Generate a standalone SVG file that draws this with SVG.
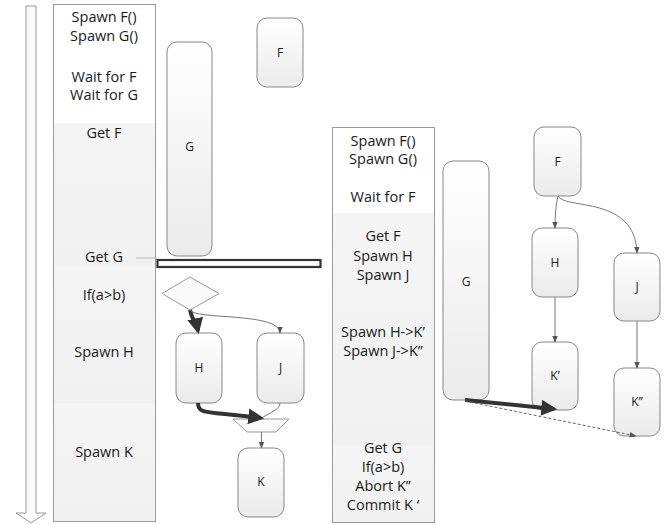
<svg xmlns="http://www.w3.org/2000/svg" width="668" height="525" viewBox="0 0 668 525">
  <defs>
    <linearGradient id="nodeFill" x1="0" y1="0" x2="0" y2="1">
      <stop offset="0" stop-color="#ffffff"/>
      <stop offset="0.35" stop-color="#f8f8f8"/>
      <stop offset="1" stop-color="#ebebeb"/>
    </linearGradient>
    <linearGradient id="bandFill" x1="0" y1="0" x2="0" y2="1">
      <stop offset="0" stop-color="#f5f5f5"/>
      <stop offset="1" stop-color="#f1f1f1"/>
    </linearGradient>
    <marker id="thinHead" viewBox="0 0 10 10" refX="9" refY="5" markerWidth="7" markerHeight="7" markerUnits="userSpaceOnUse" orient="auto">
      <path d="M0,1 L10,5 L0,9 z" fill="#555"/>
    </marker>
    <marker id="thickHead" viewBox="0 0 10 10" refX="8" refY="5" markerWidth="4" markerHeight="4" orient="auto">
      <path d="M0,0 L10,5 L0,10 z" fill="#333"/>
    </marker>
  </defs>
  <style>
    .col { fill: none; stroke: #999; stroke-width: 1; }
    .node rect { fill: url(#nodeFill); stroke: #888; stroke-width: 1; }
    .colText { font-family: "Open Sans", "Noto Sans", sans-serif; font-size: 14.5px; fill: #1a1a1a; text-anchor: middle; }
    .nodeText { font-family: "Open Sans", "Noto Sans", sans-serif; font-size: 12px; fill: #1a1a1a; text-anchor: middle; }
    .thin { fill: none; stroke: #777; stroke-width: 1; marker-end: url(#thinHead); }
    .thick { fill: none; stroke: #333; stroke-width: 4; marker-end: url(#thickHead); }
  </style>

  <rect width="668" height="525" fill="#ffffff"/>

  <!-- time axis: hollow block arrow -->
  <path d="M26,6 L36,6 L36,513 L46,513 L31,523 L16,513 L26,513 Z" fill="#fbfbfb" stroke="#999" stroke-width="1"/>

  <!-- left timeline column -->
  <g id="left-column">
    <rect x="53" y="4" width="102" height="119" fill="#ffffff"/>
    <rect x="53" y="123" width="102" height="142" fill="url(#bandFill)"/>
    <rect x="53" y="265" width="102" height="138" fill="url(#bandFill)"/>
    <rect x="53" y="403" width="102" height="118" fill="url(#bandFill)"/>
    <rect class="col" x="53.5" y="4.5" width="102" height="517"/>
    <text class="colText" x="104" y="22">Spawn F()</text>
    <text class="colText" x="104" y="41">Spawn G()</text>
    <text class="colText" x="104" y="82">Wait for F</text>
    <text class="colText" x="104" y="100">Wait for G</text>
    <text class="colText" x="104" y="138">Get F</text>
    <text class="colText" x="104" y="262">Get G</text>
    <text class="colText" x="104" y="300">If(a&gt;b)</text>
    <text class="colText" x="104" y="357">Spawn H</text>
    <text class="colText" x="104" y="457">Spawn K</text>
  </g>

  <!-- right timeline column -->
  <g id="right-column">
    <rect x="332" y="127" width="102" height="86" fill="#ffffff"/>
    <rect x="332" y="213" width="102" height="234" fill="url(#bandFill)"/>
    <rect x="332" y="447" width="102" height="75" fill="url(#bandFill)"/>
    <rect class="col" x="332.5" y="127.5" width="102" height="395"/>
    <text class="colText" x="383" y="146">Spawn F()</text>
    <text class="colText" x="383" y="164">Spawn G()</text>
    <text class="colText" x="383" y="202">Wait for F</text>
    <text class="colText" x="383" y="241">Get F</text>
    <text class="colText" x="383" y="261">Spawn H</text>
    <text class="colText" x="383" y="280">Spawn J</text>
    <text class="colText" x="383" y="337">Spawn H-&gt;K’</text>
    <text class="colText" x="383" y="356">Spawn J-&gt;K’’</text>
    <text class="colText" x="383" y="453">Get G</text>
    <text class="colText" x="383" y="472">If(a&gt;b)</text>
    <text class="colText" x="383" y="491">Abort K’’</text>
    <text class="colText" x="383" y="510">Commit K ‘</text>
  </g>

  <!-- left graph nodes -->
  <g id="node-G1" class="node">
    <rect x="167" y="42" width="45" height="214" rx="10"/>
    <text class="nodeText" x="189.5" y="151">G</text>
  </g>
  <g id="node-F1" class="node">
    <rect x="257" y="18" width="46" height="69" rx="10"/>
    <text class="nodeText" x="280" y="57">F</text>
  </g>
  <g id="sync-bar">
    <rect x="157.5" y="260" width="163" height="7" fill="#ffffff" stroke="#333" stroke-width="2.2"/>
  </g>
  <g id="decision">
    <polygon points="190,277 219,293.5 190,310 162,293.5" fill="#fafafa" stroke="#999" stroke-width="1"/>
  </g>
  <g id="node-H1" class="node">
    <rect x="176" y="333" width="46" height="70" rx="10"/>
    <text class="nodeText" x="199" y="372">H</text>
  </g>
  <g id="node-J1" class="node">
    <rect x="257" y="333" width="47" height="70" rx="10"/>
    <text class="nodeText" x="280.5" y="372">J</text>
  </g>
  <g id="merge">
    <polygon points="233,419 289,419 276,432 247,432" fill="#fafafa" stroke="#999" stroke-width="1"/>
  </g>
  <g id="node-K1" class="node">
    <rect x="238" y="448" width="46" height="69" rx="10"/>
    <text class="nodeText" x="261" y="486">K</text>
  </g>

  <!-- right graph nodes -->
  <g id="node-G2" class="node">
    <rect x="443" y="161" width="46" height="239" rx="10"/>
    <text class="nodeText" x="466" y="286">G</text>
  </g>
  <g id="node-F2" class="node">
    <rect x="534" y="127" width="47" height="69" rx="10"/>
    <text class="nodeText" x="557.5" y="166">F</text>
  </g>
  <g id="node-H2" class="node">
    <rect x="532" y="228" width="46" height="69" rx="10"/>
    <text class="nodeText" x="555" y="267">H</text>
  </g>
  <g id="node-J2" class="node">
    <rect x="614" y="253" width="46" height="68" rx="10"/>
    <text class="nodeText" x="637" y="291">J</text>
  </g>
  <g id="node-K1p" class="node">
    <rect x="532" y="342" width="46" height="68" rx="10"/>
    <text class="nodeText" x="555" y="380">K’</text>
  </g>
  <g id="node-K2p" class="node">
    <rect x="614" y="368" width="46" height="68" rx="10"/>
    <text class="nodeText" x="637" y="406">K’’</text>
  </g>

  <!-- connectors -->
  <g id="connectors">
    <line x1="136" y1="258" x2="157" y2="258" stroke="#bbb" stroke-width="1"/>
    <path class="thick" d="M190,310 C192,320 196,322 198,331"/>
    <path class="thin" d="M190,310 C194,320 280,312 280,333"/>
    <path class="thick" d="M198,403 C198,415 206,411 261,418"/>
    <path fill="none" stroke="#777" stroke-width="1" d="M280,403 C280,410 270,412 262,418"/>
    <path class="thin" d="M261.5,432 L261.5,448"/>
    <path class="thin" d="M558,196 C556,205 555,214 555,228"/>
    <path class="thin" d="M558,196 C565,210 635,195 637,253"/>
    <path class="thin" d="M555,297 L555,342"/>
    <path class="thin" d="M637,321 L637,368"/>
    <path class="thick" d="M465,400 L554,409"/>
    <path fill="none" stroke="#666" stroke-width="1" stroke-dasharray="3,2" marker-end="url(#thinHead)" d="M465,401 L636,436"/>
  </g>
</svg>
